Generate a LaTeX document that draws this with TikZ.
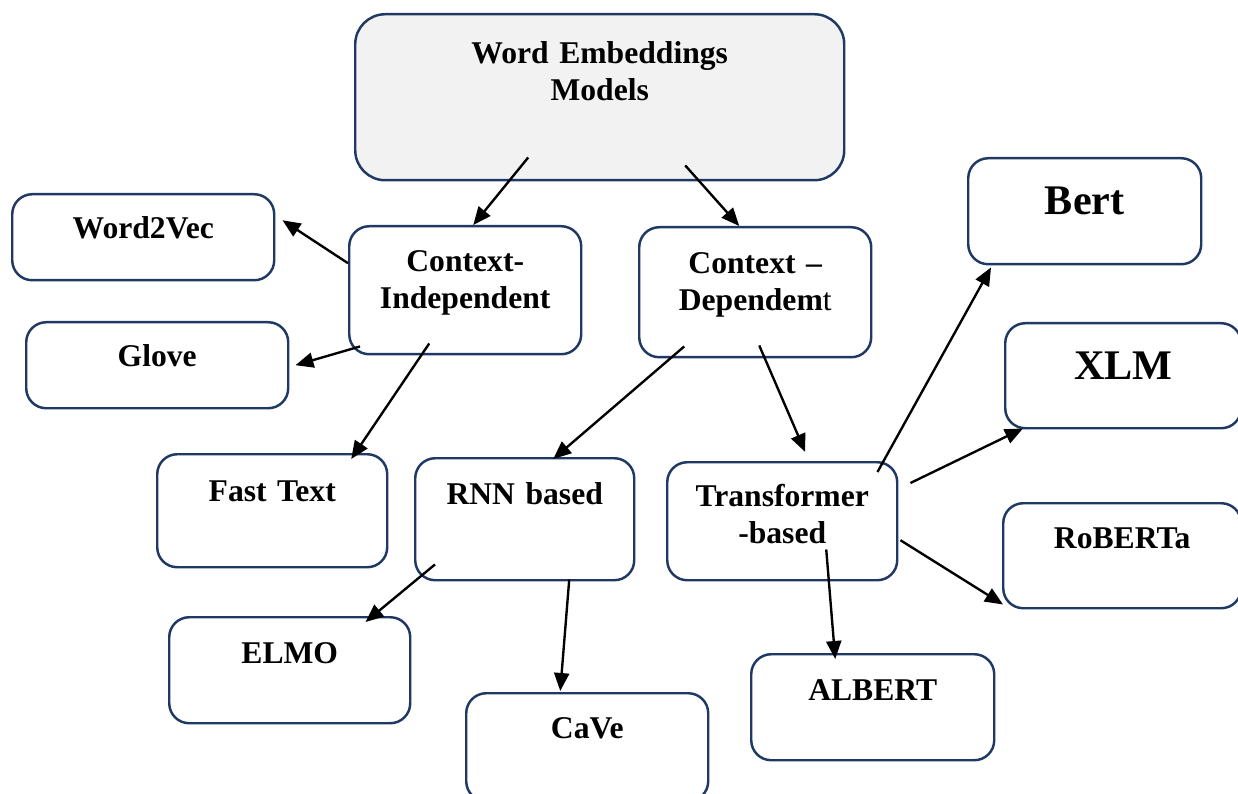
\documentclass[tikz,border=0pt]{standalone}
\usepackage{fontspec}
\setmainfont{Liberation Serif}
\usetikzlibrary{arrows.meta}
\definecolor{navy}{RGB}{31,56,100}
\definecolor{paleg}{RGB}{242,242,242}

\begin{document}
\begin{tikzpicture}[
  box/.style={draw=navy,line width=1.4pt,rounded corners=0.4cm,inner sep=0pt,align=center,anchor=north west,font=\fontsize{18}{21}\selectfont\bfseries},  bigtext/.style={font=\fontsize{24}{28}\selectfont\bfseries},  arrow/.style={line width=1.35pt,-{Triangle[length=0.36cm,width=0.3cm]}}
]
  \useasboundingbox (0,0) rectangle (24.76,-15.88);
  \node[box,fill=paleg,rounded corners=0.6cm,text width=9.78cm,text height=0.98cm,text depth=2.34cm] (root) at (7.08,-0.26) {Word Embeddings\\Models};
  \node[box,text width=5.24cm,text height=0.88cm,text depth=0.84cm] (w2v) at (0.22,-3.86) {Word2Vec};
  \node[box,text width=5.24cm,text height=0.88cm,text depth=0.84cm] (glove) at (0.50,-6.42) {Glove};
  \node[box,text width=4.64cm,text height=0.90cm,text depth=1.66cm] (ci) at (6.96,-4.50) {Context-\\Independent};
  \node[box,text width=4.64cm,text height=0.92cm,text depth=1.68cm] (cd) at (12.76,-4.52) {Context --\\Dependem{\mdseries t}};
  \node[box,text width=4.60cm,text height=0.94cm,text depth=1.32cm] (fast) at (3.12,-9.06) {Fast Text};
  \node[box,text width=4.38cm,text height=0.92cm,text depth=1.52cm] (rnn) at (8.28,-9.14) {RNN based};
  \node[box,text width=4.60cm,text height=0.88cm,text depth=1.48cm] (trans) at (13.32,-9.22) {Transformer\\-based};
  \node[box,bigtext,text width=4.66cm,text height=1.12cm,text depth=1.00cm] (bert) at (19.34,-3.14) {Bert};
  \node[box,bigtext,text width=4.72cm,text height=1.12cm,text depth=0.98cm] (xlm) at (20.08,-6.44) {XLM};
  \node[box,text width=4.76cm,text height=0.90cm,text depth=1.20cm] (rob) at (20.04,-10.04) {RoBERTa};
  \node[box,text width=4.82cm,text height=0.92cm,text depth=1.20cm] (elmo) at (3.36,-12.32) {ELMO};
  \node[box,text width=4.84cm,text height=0.90cm,text depth=1.26cm] (cave) at (9.30,-13.84) {CaVe};
  \node[box,text width=4.86cm,text height=0.92cm,text depth=1.20cm] (albert) at (15.00,-13.06) {ALBERT};
  \draw[arrow] ([xshift=-1.43cm,yshift=0.48cm]root.south) -- ([xshift=0.16cm]ci.north);
  \draw[arrow] ([xshift=1.71cm,yshift=0.32cm]root.south) -- ([xshift=-0.32cm]cd.north);
  \draw[arrow] ([yshift=0.54cm]ci.west) -- ([xshift=0.14cm,yshift=0.34cm]w2v.east);
  \draw[arrow] ([xshift=0.24cm,yshift=0.18cm]ci.south west) -- ([xshift=0.12cm]glove.east);
  \draw[arrow] ([xshift=-0.72cm,yshift=0.24cm]ci.south) -- ([xshift=1.58cm,yshift=-0.12cm]fast.north);
  \draw[arrow] ([xshift=-1.42cm,yshift=0.24cm]cd.south) -- ([xshift=0.57cm,yshift=-0.04cm]rnn.north);
  \draw[arrow] ([xshift=0.08cm,yshift=0.26cm]cd.south) -- ([xshift=0.46cm,yshift=0.18cm]trans.north);
  \draw[arrow] ([xshift=-0.42cm,yshift=-0.22cm]trans.north east) -- ([xshift=0.48cm,yshift=-0.04cm]bert.south west);
  \draw[arrow] ([xshift=0.24cm,yshift=-0.44cm]trans.north east) -- ([xshift=0.38cm,yshift=0.02cm]xlm.south west);
  \draw[arrow] ([xshift=0.04cm,yshift=-0.38cm]trans.east) -- ([xshift=0.02cm,yshift=0.10cm]rob.south west);
  \draw[arrow] ([xshift=0.88cm,yshift=0.64cm]trans.south) -- ([xshift=-0.75cm,yshift=-0.12cm]albert.north);
  \draw[arrow] ([xshift=0.42cm,yshift=0.34cm]rnn.south west) -- ([xshift=-0.92cm,yshift=-0.12cm]elmo.north east);
  \draw[arrow] ([xshift=0.89cm,yshift=0.04cm]rnn.south) -- ([xshift=-0.54cm,yshift=0.02cm]cave.north);
\end{tikzpicture}
\end{document}
